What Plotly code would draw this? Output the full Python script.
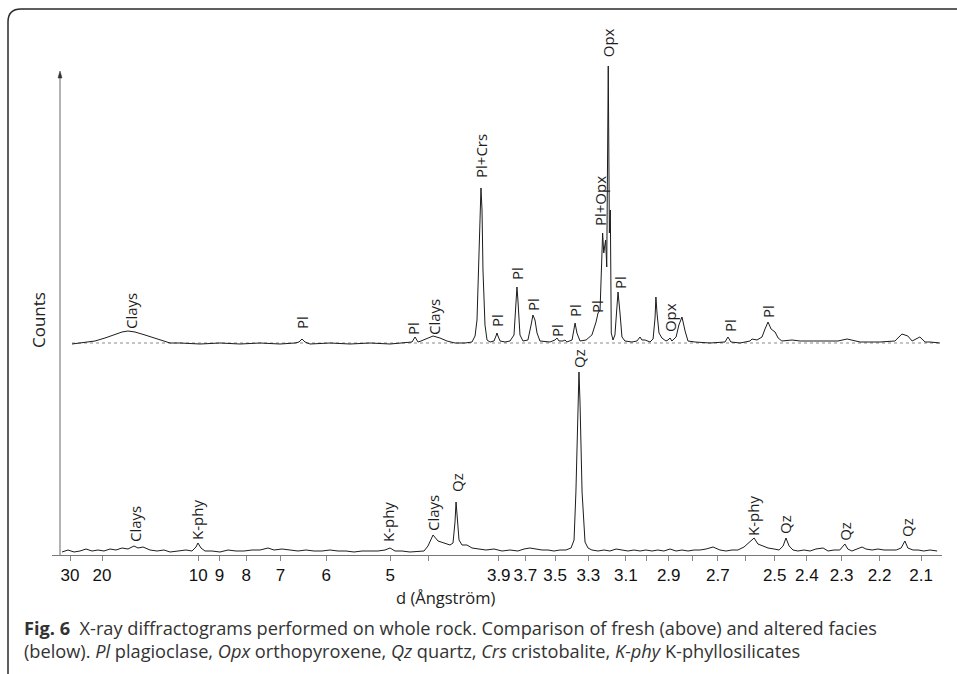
import plotly.graph_objects as go

W, H = 957, 674

# ---------------- data (d-spacing in Angstrom, counts in arbitrary units) ----------------
# Fresh facies (upper diffractogram), counts above its own baseline
upper_d = [29.09, 25.95, 23.42, 21.58, 19.40, 17.62, 16.56, 15.75, 14.89, 13.82, 12.89, 12.24,
           11.71, 11.04, 9.90, 8.98, 8.21, 7.565, 7.013, 6.649, 6.558, 6.492, 6.427, 6.321,
           5.931, 5.586, 5.279, 5.004, 4.816, 4.733, 4.698, 4.664, 4.631, 4.575, 4.500, 4.428,
           4.358, 4.280, 4.187, 4.124, 4.097, 4.080, 4.067, 4.054, 4.046, 4.037, 4.029, 4.012,
           3.995, 3.970, 3.938, 3.922, 3.914, 3.906, 3.890, 3.851, 3.813, 3.783, 3.768, 3.761,
           3.754, 3.739, 3.717, 3.682, 3.660, 3.647, 3.633, 3.619, 3.599, 3.533, 3.500, 3.488,
           3.475, 3.450, 3.438, 3.426, 3.395, 3.383, 3.377, 3.366, 3.348, 3.313, 3.280, 3.257,
           3.246, 3.235, 3.227, 3.221, 3.215, 3.205, 3.199, 3.191, 3.185, 3.180, 3.175, 3.166,
           3.156, 3.145, 3.140, 3.130, 3.120, 3.105, 3.070, 3.046, 3.031, 3.022, 3.007, 2.984,
           2.970, 2.961, 2.957, 2.952, 2.943, 2.930, 2.912, 2.903, 2.894, 2.886, 2.868, 2.856,
           2.843, 2.830, 2.818, 2.789, 2.730, 2.673, 2.662, 2.651, 2.618, 2.583, 2.576, 2.559,
           2.542, 2.532, 2.522, 2.512, 2.499, 2.489, 2.477, 2.445, 2.420, 2.381, 2.355, 2.310,
           2.285, 2.250, 2.199, 2.162, 2.145, 2.138, 2.131, 2.121, 2.103, 2.091, 2.080, 2.058]
upper_counts = [-1, 0, 1, 2, 5, 9, 11, 12, 11, 8, 5, 2,
                0, 0, -1, 0, -1, 0, -1, 0, 1, 4, 1, -1,
                0, -1, 0, -1, 0, 1, 6, 1, 2, 4, 7, 5,
                2, 0, 0, 1, 7, 23, 83, 143, 155, 133, 73, 18,
                3, 1, 2, 7, 10, 7, 2, 1, 2, 8, 43, 56,
                43, 8, 2, 3, 18, 28, 23, 10, 2, 1, 3, 5,
                2, 2, 3, 1, 3, 13, 20, 10, 2, 3, 8, 21,
                30, 33, 83, 110, 90, 103, 76, 277, 110, 133, 10, 3,
                8, 40, 51, 30, 6, 2, 1, 2, 6, 3, 3, 1,
                4, 25, 46, 30, 10, 5, 2, 3, 5, 2, 6, 18,
                26, 12, 2, 1, 0, 1, 6, 1, 0, 2, 4, 3,
                6, 14, 21, 14, 11, 5, 2, 3, 2, 2, 2, 2,
                4, 1, 1, 2, 9, 8, 7, 2, 6, 1, 1, 0]

# Altered facies (lower diffractogram)
lower_d = [34.28, 30.97, 28.24, 25.95, 24.00, 22.33, 20.88, 19.60, 18.47, 17.46, 16.56, 15.75,
           15.01, 14.55, 14.02, 13.34, 12.72, 12.16, 11.71, 11.17, 10.67, 10.33, 10.11, 10.01,
           9.853, 9.655, 9.327, 8.978, 8.655, 8.354, 8.073, 7.811, 7.565, 7.334, 7.170, 6.962,
           6.766, 6.581, 6.405, 6.239, 6.081, 5.931, 5.788, 5.652, 5.522, 5.398, 5.279, 5.166,
           5.070, 5.004, 4.940, 4.853, 4.757, 4.664, 4.597, 4.554, 4.500, 4.448, 4.387, 4.328,
           4.299, 4.280, 4.270, 4.261, 4.242, 4.214, 4.169, 4.124, 4.071, 4.004, 3.938, 3.874,
           3.813, 3.754, 3.710, 3.668, 3.626, 3.585, 3.546, 3.507, 3.469, 3.432, 3.401, 3.383,
           3.372, 3.360, 3.354, 3.348, 3.336, 3.319, 3.302, 3.280, 3.246, 3.214, 3.182, 3.150,
           3.120, 3.090, 3.060, 3.031, 3.003, 2.975, 2.948, 2.921, 2.894, 2.868, 2.843, 2.818,
           2.793, 2.769, 2.745, 2.718, 2.692, 2.669, 2.647, 2.626, 2.604, 2.583, 2.569, 2.556,
           2.539, 2.522, 2.502, 2.486, 2.473, 2.464, 2.454, 2.442, 2.427, 2.408, 2.390, 2.373,
           2.352, 2.338, 2.321, 2.305, 2.291, 2.283, 2.272, 2.258, 2.245, 2.235, 2.219, 2.204,
           2.189, 2.174, 2.159, 2.147, 2.138, 2.131, 2.119, 2.107, 2.094, 2.080, 2.064]
lower_counts = [0, 2, 0, 1, 3, 1, 2, 1, 3, 2, 4, 3,
                6, 4, 5, 2, 1, 2, 0, 1, 2, 1, 5, 9,
                4, 1, 1, 0, 2, 1, 1, 2, 2, 4, 2, 3,
                2, 1, 2, 1, 1, 2, 1, 1, 0, 1, 1, 1,
                2, 4, 1, 1, 0, 1, 1, 6, 17, 11, 9, 7,
                9, 30, 50, 40, 12, 7, 7, 4, 3, 2, 3, 1,
                2, 1, 3, 4, 3, 2, 2, 1, 2, 2, 4, 12,
                60, 150, 180, 150, 60, 10, 4, 2, 1, 2, 1, 3,
                2, 1, 2, 1, 2, 1, 2, 1, 3, 1, 2, 1,
                2, 2, 3, 5, 2, 1, 2, 2, 5, 10, 14, 8,
                6, 4, 3, 2, 6, 14, 6, 2, 1, 2, 1, 3,
                4, 1, 2, 2, 8, 3, 1, 3, 5, 3, 2, 3,
                2, 2, 2, 4, 11, 4, 2, 2, 1, 2, 1]

# Peak labels: (text, d-spacing, label centre height)
upper_labels = [("Clays", 15.37, 244), ("Pl", 6.492, 233), ("Pl", 4.722, 227), ("Clays", 4.490, 238),
                ("Pl+Crs", 4.046, 399), ("Pl", 3.914, 235), ("Pl", 3.761, 282), ("Pl", 3.647, 251),
                ("Pl", 3.488, 225), ("Pl", 3.377, 244), ("Pl", 3.252, 249), ("Pl+Opx", 3.235, 354),
                ("Opx", 3.191, 512), ("Pl", 3.130, 273), ("Opx", 2.894, 237), ("Pl", 2.654, 229),
                ("Pl", 2.522, 243)]
lower_labels = [("Clays", 14.89, 31), ("K-phy", 10.06, 35), ("K-phy", 5.030, 33), ("Clays", 4.500, 42),
                ("Qz", 4.261, 72), ("Qz", 3.354, 197), ("K-phy", 2.573, 39), ("Qz", 2.467, 30),
                ("Qz", 2.291, 24), ("Qz", 2.133, 27)]

tick_d = [30, 20, 10, 9, 8, 7, 6, 5, 4.55, 3.9, 3.7, 3.5, 3.3, 3.1, 3.0, 2.9, 2.8, 2.7, 2.6,
          2.5, 2.4, 2.3, 2.2, 2.1]
tick_text = ["30", "20", "10", "9", "8", "7", "6", "5", "", "3.9", "3.7", "3.5", "3.3", "3.1", "",
             "2.9", "", "2.7", "", "2.5", "2.4", "2.3", "2.2", "2.1"]

UPPER_OFFSET = 212
LOWER_OFFSET = 3


def pxx(x):
    return x / W


def pxy(y):
    return 1 - y / H


def recip(ds):
    return [1.0 / d for d in ds]


fig = go.Figure()

# dotted baseline of the upper pattern
fig.add_trace(go.Scatter(x=recip([upper_d[0], upper_d[-1]]), y=[UPPER_OFFSET, UPPER_OFFSET],
                         mode="lines", line=dict(color="#8a8a8a", width=1, dash="dot"),
                         hoverinfo="skip", showlegend=False))
fig.add_trace(go.Scatter(x=recip(upper_d), y=[c + UPPER_OFFSET for c in upper_counts],
                         mode="lines", line=dict(color="#1c1c1c", width=1), showlegend=False,
                         name="fresh"))
fig.add_trace(go.Scatter(x=recip(lower_d), y=[c + LOWER_OFFSET for c in lower_counts],
                         mode="lines", line=dict(color="#1c1c1c", width=1), showlegend=False,
                         name="altered"))

label_font = dict(family="Open Sans", size=15, color="#1e1e1e")
for text, d, yc in upper_labels + lower_labels:
    fig.add_annotation(x=1.0 / d, y=yc, text=text, textangle=-90, showarrow=False,
                       xanchor="center", yanchor="middle", font=label_font)

# axis titles
fig.add_annotation(xref="paper", yref="paper", x=pxx(38), y=pxy(320), text="Counts",
                   textangle=-90, showarrow=False, xanchor="center", yanchor="middle",
                   font=dict(family="Open Sans", size=17, color="#222222"))
fig.add_annotation(xref="paper", yref="paper", x=pxx(445), y=pxy(597), text="d (Ångström)",
                   showarrow=False, xanchor="center", yanchor="middle",
                   font=dict(family="Open Sans", size=16.5, color="#222222"))

# caption
cap_font = dict(family="Open Sans", size=18.2, color="#333333")
fig.add_annotation(xref="paper", yref="paper", x=pxx(22), y=pxy(628),
                   text="<b>Fig. 6</b>  X-ray diffractograms performed on whole rock. Comparison of fresh (above) and altered facies",
                   showarrow=False, xanchor="left", yanchor="middle", font=cap_font)
fig.add_annotation(xref="paper", yref="paper", x=pxx(22), y=pxy(651),
                   text="(below). <i>Pl</i> plagioclase, <i>Opx</i> orthopyroxene, <i>Qz</i> quartz, <i>Crs</i> cristobalite, <i>K-phy</i> K-phyllosilicates",
                   showarrow=False, xanchor="left", yanchor="middle", font=cap_font)

shapes = []
# outer rounded frame (left and top edges)
r = 13
frame = (f"M {pxx(8)},{pxy(674)} L {pxx(8)},{pxy(9 + r)} "
         f"Q {pxx(8)},{pxy(9)} {pxx(8 + r)},{pxy(9)} L {pxx(960)},{pxy(9)}")
shapes.append(dict(type="path", xref="paper", yref="paper", path=frame,
                   line=dict(color="#2a2a2a", width=1.5)))
# y axis with arrow
shapes.append(dict(type="line", xref="paper", yref="paper", x0=pxx(60), x1=pxx(60),
                   y0=pxy(555), y1=pxy(76), line=dict(color="#9a9a9a", width=1.5)))
arrow = f"M {pxx(60)},{pxy(71)} L {pxx(58)},{pxy(78)} L {pxx(62)},{pxy(78)} Z"
shapes.append(dict(type="path", xref="paper", yref="paper", path=arrow,
                   fillcolor="#333333", line=dict(color="#333333", width=0.5)))

fig.update_layout(
    width=W, height=H,
    margin=dict(l=0, r=0, t=0, b=0),
    paper_bgcolor="white", plot_bgcolor="white",
    shapes=shapes,
    showlegend=False,
    xaxis=dict(domain=[pxx(52), pxx(942)], range=[(52 - 5.93) / 1922, (942 - 5.93) / 1922],
               tickvals=recip(tick_d), ticktext=tick_text, ticks="outside", ticklen=5,
               tickcolor="#888888", tickwidth=1, showline=True, linecolor="#777777", linewidth=1,
               showgrid=False, zeroline=False,
               tickfont=dict(family="Liberation Sans", size=17, color="#111111")),
    yaxis=dict(domain=[pxy(555), pxy(15)], range=[0, 540], visible=False, showgrid=False,
               zeroline=False),
)

fig.write_html("out.html", config={"displayModeBar": False},
               post_script="document.body.style.margin='0px';")
